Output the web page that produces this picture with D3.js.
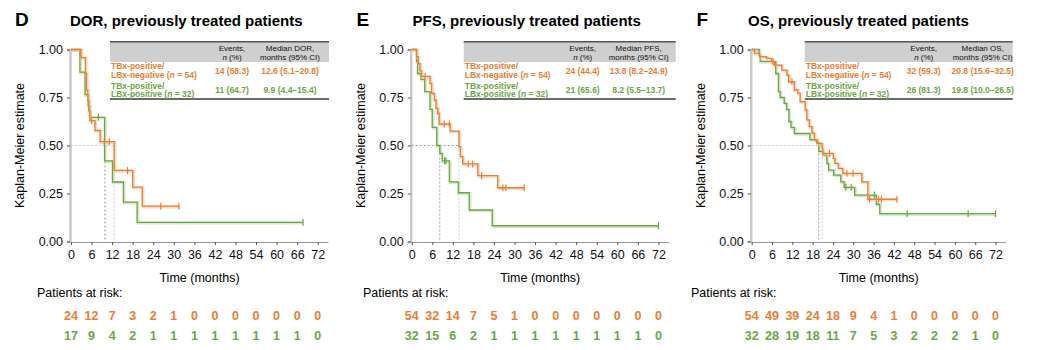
<!DOCTYPE html>
<html>
<head>
<meta charset="utf-8">
<script src="https://cdn.jsdelivr.net/npm/d3@7"></script>
<style>
  body { margin: 0; background: #fff; }
  svg { font-family: "Liberation Sans", Arial, Helvetica, sans-serif; }
</style>
</head>
<body>
<div id="chart"></div>
<script>
// ---- data ----
const timeTicks = [0, 6, 12, 18, 24, 30, 36, 42, 48, 54, 60, 66, 72];
const survTicks = [0, 0.25, 0.5, 0.75, 1];

const panelLetters = ['D', 'E', 'F'];
const panelTitles = ['DOR, previously treated patients', 'PFS, previously treated patients', 'OS, previously treated patients'];
const endpointNames = ['DOR', 'PFS', 'OS'];

// events n (%) and median (95% CI), [negative group, positive group]
const eventsText = [['14 (58.3)', '11 (64.7)'], ['24 (44.4)', '21 (65.6)'], ['32 (59.3)', '26 (81.3)']];
const medianText = [['12.6 (5.1\u201320.8)', '9.9 (4.4\u201315.4)'], ['13.8 (8.2\u201324.9)', '8.2 (5.5\u201313.7)'], ['20.8 (15.6\u201332.5)', '19.8 (10.0\u201326.5)']];
const medians = [[12.6, 9.9], [13.8, 8.2], [20.8, 19.8]];

// step curves: [time, survival after drop]
const dorNegSteps = [[2.9, 0.958], [4.2, 0.875], [4.5, 0.79], [4.9, 0.734], [5.2, 0.68], [5.5, 0.63], [7.0, 0.578], [8.5, 0.52], [12.6, 0.37], [18.0, 0.283], [20.8, 0.184]];
const dorNegCens = [6.0, 9.7, 11.2, 16.5, 26.2, 31.5];
const dorPosSteps = [[2.6, 0.882], [4.1, 0.765], [5.0, 0.706], [5.4, 0.647], [9.8, 0.42], [12.1, 0.31], [15.3, 0.205], [19.3, 0.10]];
const dorPosCens = [8.0, 67.7];

const pfsNegSteps = [[1.4, 0.963], [1.9, 0.926], [2.4, 0.89], [2.8, 0.86], [5.35, 0.824], [5.8, 0.772], [6.6, 0.737], [7.1, 0.694], [7.6, 0.668], [8.0, 0.612], [11.2, 0.575], [13.8, 0.494], [14.2, 0.442], [14.9, 0.404], [19.3, 0.343], [25.1, 0.28]];
const pfsNegCens = [3.9, 9.5, 11.0, 16.5, 17.8, 20.4, 26.6, 27.5, 32.8];
const pfsPosSteps = [[1.4, 0.938], [1.7, 0.875], [2.7, 0.844], [3.8, 0.781], [5.35, 0.688], [6.0, 0.594], [7.3, 0.5], [8.2, 0.459], [8.9, 0.42], [11.0, 0.311], [13.6, 0.254], [16.8, 0.164], [23.5, 0.082]];
const pfsPosCens = [9.6, 10.0, 72];

const osNegSteps = [[0.8, 0.981], [2.3, 0.963], [4.4, 0.954], [5.9, 0.936], [6.7, 0.919], [8.9, 0.893], [10.4, 0.867], [10.9, 0.832], [12.6, 0.789], [13.6, 0.772], [14.3, 0.728], [15.8, 0.685], [16.3, 0.633], [17.0, 0.598], [17.8, 0.564], [18.5, 0.529], [19.3, 0.511], [20.8, 0.485], [21.0, 0.459], [24.1, 0.433], [24.6, 0.407], [25.6, 0.381], [26.9, 0.355], [32.5, 0.311], [34.3, 0.22]];
const osNegCens = [6.3, 7.0, 11.9, 23.0, 28.1, 29.9, 34.8, 37.5, 38.3, 42.9];
const osPosSteps = [[2.2, 0.969], [2.5, 0.938], [7.1, 0.875], [7.9, 0.781], [8.4, 0.75], [9.6, 0.719], [10.3, 0.688], [11.0, 0.625], [11.6, 0.594], [12.6, 0.5625], [17.2, 0.531], [19.2, 0.516], [19.8, 0.469], [21.0, 0.45], [22.2, 0.407], [22.7, 0.372], [24.2, 0.346], [26.3, 0.311], [27.3, 0.282], [30.4, 0.242], [36.8, 0.194], [37.8, 0.145]];
const osPosCens = [27.8, 29.4, 36.2, 45.9, 63.9, 72];

// patients at risk at each tick
const dorNegRisk = [24, 12, 7, 3, 2, 1, 0, 0, 0, 0, 0, 0, 0];
const dorPosRisk = [17, 9, 4, 2, 1, 1, 1, 1, 1, 1, 1, 1, 0];
const pfsNegRisk = [54, 32, 14, 7, 5, 1, 0, 0, 0, 0, 0, 0, 0];
const pfsPosRisk = [32, 15, 6, 2, 1, 1, 1, 1, 1, 1, 1, 1, 0];
const osNegRisk = [54, 49, 39, 24, 18, 9, 4, 1, 0, 0, 0, 0, 0];
const osPosRisk = [32, 28, 19, 18, 11, 7, 5, 3, 2, 2, 2, 1, 0];

const panelSteps = [[dorNegSteps, dorPosSteps], [pfsNegSteps, pfsPosSteps], [osNegSteps, osPosSteps]];
const panelCens = [[dorNegCens, dorPosCens], [pfsNegCens, pfsPosCens], [osNegCens, osPosCens]];
const panelRisk = [[dorNegRisk, dorPosRisk], [pfsNegRisk, pfsPosRisk], [osNegRisk, osPosRisk]];

// ---- layout ----
const width = 1045, height = 350;
const colors = ['#ee7d31', '#6aa843'];
const halo = ['#f6bf97', '#b9d9a5'];
const layouts = [
  {x0: 71, w: 257, letterX: 15, titleX: 70, tabL: 39, tabR: 258, evX: 161, medX: 219, riskX: 37},
  {x0: 411.7, w: 257, letterX: 356.5, titleX: 412.5, tabL: 52, tabR: 264, evX: 171, medX: 227, riskX: 363},
  {x0: 751.7, w: 254, letterX: 696.5, titleX: 748, tabL: 53, tabR: 261, evX: 172, medX: 231, riskX: 691}
];

const svg = d3.select('#chart').append('svg')
  .attr('width', width)
  .attr('height', height);

const y = d3.scaleLinear().domain([0, 1]).range([241.5, 49.5]);

function survAt(steps, t) {
  let s = 1;
  steps.forEach(d => { if (d[0] <= t) s = d[1]; });
  return s;
}

layouts.forEach((L, p) => {
  const x = d3.scaleLinear().domain([0, 75]).range([L.x0, L.x0 + L.w]);
  const g = svg.append('g');

  // titles
  g.append('text').attr('x', L.letterX).attr('y', 25.5)
    .attr('font-size', 19).attr('font-weight', 'bold').text(panelLetters[p]);
  g.append('text').attr('x', L.titleX).attr('y', 26)
    .attr('font-size', 15).attr('font-weight', 'bold').text(panelTitles[p]);

  // y axis
  g.append('g')
    .attr('transform', `translate(${L.x0 - 1}, 0)`)
    .call(d3.axisLeft(y).tickValues(survTicks).tickFormat(d3.format('.2f')).tickSize(3).tickPadding(4))
    .call(a => a.select('.domain').attr('stroke', '#c8c8c8').attr('stroke-width', 2.5))
    .call(a => a.selectAll('.tick line').attr('stroke', '#555'))
    .call(a => a.selectAll('text').attr('font-size', 12.5).attr('fill', '#111').attr('font-family', null));

  g.append('text')
    .attr('transform', `translate(${L.x0 - 51}, ${y(0.5)}) rotate(-90)`)
    .attr('text-anchor', 'middle').attr('dy', '0.35em')
    .attr('font-size', 12.5).text('Kaplan-Meier estimate');

  // x axis
  g.append('g')
    .attr('transform', `translate(0, ${y(0) + 0.5})`)
    .call(d3.axisBottom(x).tickValues(timeTicks).tickSize(3).tickSizeOuter(0).tickPadding(5))
    .call(a => a.select('.domain').attr('stroke', '#999').attr('stroke-width', 1.2))
    .call(a => a.selectAll('.tick line').attr('stroke', '#555'))
    .call(a => a.selectAll('text').attr('font-size', 12.5).attr('fill', '#111').attr('font-family', null));

  g.append('text').attr('x', x(37.5)).attr('y', 281.5)
    .attr('text-anchor', 'middle').attr('font-size', 12.5).text('Time (months)');

  // median reference lines
  const med = medians[p];
  g.append('line')
    .attr('x1', x(0)).attr('x2', x(d3.max(med)))
    .attr('y1', y(0.5)).attr('y2', y(0.5))
    .attr('stroke', p === 1 ? '#888' : '#c4c4c4').attr('stroke-width', 0.8).attr('stroke-dasharray', '2,2');
  med.forEach((m, i) => {
    g.append('line')
      .attr('x1', x(m)).attr('x2', x(m))
      .attr('y1', y(0.5)).attr('y2', y(0))
      .attr('stroke', i === 1 ? '#888' : '#bbb').attr('stroke-width', 0.8).attr('stroke-dasharray', '2,2');
  });

  // curves: draw positive (green) first so orange sits on top in overlaps
  [1, 0].forEach(i => {
    const steps = panelSteps[p][i];
    const cens = panelCens[p][i];
    const endT = d3.max(cens.concat(steps.map(d => d[0])));
    const pts = [[0, 1]].concat(steps, [[endT, steps[steps.length - 1][1]]]);
    const line = d3.line().x(d => x(d[0])).y(d => y(d[1])).curve(d3.curveStepAfter);

    g.append('path').datum(pts)
      .attr('fill', 'none').attr('stroke', halo[i]).attr('stroke-width', 3).attr('stroke-opacity', 0.55)
      .attr('transform', 'translate(0.8, 0.8)')
      .attr('d', line);
    g.append('path').datum(pts)
      .attr('fill', 'none').attr('stroke', colors[i]).attr('stroke-width', 1.3)
      .attr('d', line);

    g.selectAll(null).data(cens).join('line')
      .attr('x1', d => x(d)).attr('x2', d => x(d))
      .attr('y1', d => y(survAt(steps, d)) - 3.5)
      .attr('y2', d => y(survAt(steps, d)) + 3.5)
      .attr('stroke', colors[i]).attr('stroke-width', 1.2);
  });

  // summary table
  const tl = L.x0 + L.tabL, tr = L.x0 + L.tabR;
  g.append('rect').attr('x', tl).attr('y', 42).attr('width', tr - tl).attr('height', 20).attr('fill', '#cfcfcf');
  g.append('line').attr('x1', tl).attr('x2', tr).attr('y1', 41.8).attr('y2', 41.8).attr('stroke', '#555').attr('stroke-width', 1.5);
  g.append('line').attr('x1', tl).attr('x2', tr).attr('y1', 99).attr('y2', 99).attr('stroke', '#6b6b6b').attr('stroke-width', 2.2);

  const head = g.append('g').attr('font-size', 8).attr('text-anchor', 'middle').attr('fill', '#111');
  head.append('text').attr('x', L.x0 + L.evX).attr('y', 50.5).text('Events,');
  const nt = head.append('text').attr('x', L.x0 + L.evX).attr('y', 60);
  nt.append('tspan').attr('font-style', 'italic').text('n');
  nt.append('tspan').text(' (%)');
  head.append('text').attr('x', L.x0 + L.medX).attr('y', 50.5).text(`Median ${endpointNames[p]},`);
  head.append('text').attr('x', L.x0 + L.medX).attr('y', 60).text('months (95% CI)');

  const rowY = [[68.8, 78, 74], [89, 97.4, 93]];
  const rowLabel = [['TBx-positive/', 'LBx-negative', '54'], ['TBx-positive/', 'LBx-positive', '32']];
  [0, 1].forEach(i => {
    const r = g.append('g').attr('font-size', 8.5).attr('font-weight', 'bold').attr('fill', colors[i]);
    r.append('text').attr('x', tl + 1).attr('y', rowY[i][0]).text(rowLabel[i][0]);
    const t2 = r.append('text').attr('x', tl + 1).attr('y', rowY[i][1]);
    t2.append('tspan').text(rowLabel[i][1] + ' (');
    t2.append('tspan').attr('font-style', 'italic').text('n');
    t2.append('tspan').text(' = ' + rowLabel[i][2] + ')');
    r.append('text').attr('x', L.x0 + L.evX).attr('y', rowY[i][2]).attr('text-anchor', 'middle').text(eventsText[p][i]);
    r.append('text').attr('x', L.x0 + L.medX).attr('y', rowY[i][2]).attr('text-anchor', 'middle').text(medianText[p][i]);
  });

  // patients at risk
  g.append('text').attr('x', L.riskX).attr('y', 297).attr('font-size', 12.5).text('Patients at risk:');
  [0, 1].forEach(i => {
    g.append('g').selectAll('text').data(panelRisk[p][i]).join('text')
      .attr('x', (d, k) => x(timeTicks[k]))
      .attr('y', i === 0 ? 319.5 : 340)
      .attr('text-anchor', 'middle')
      .attr('font-size', 12.5).attr('font-weight', 'bold')
      .attr('fill', colors[i])
      .text(d => d);
  });
});
</script>
</body>
</html>
